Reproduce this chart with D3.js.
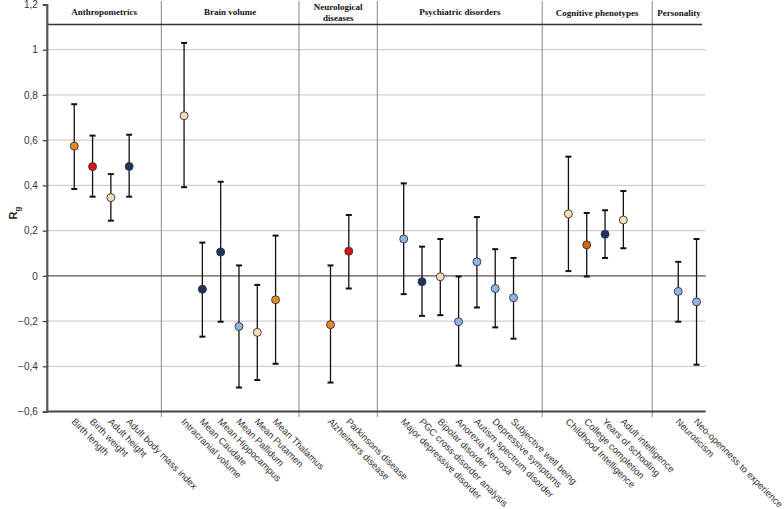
<!DOCTYPE html>
<html><head><meta charset="utf-8">
<script src="https://cdn.jsdelivr.net/npm/d3@7"></script>
<style>body{margin:0;background:#fff}svg{display:block}</style>
</head><body>
<script>
// ---- data ----
const categories = ["Birth length","Birth weight","Adult height","Adult body mass index",
 "Intracranial volume","Mean Caudate","Mean Hippocampus","Mean Pallidum","Mean Putamen","Mean Thalamus",
 "Alzheimers disease","Parkinsons disease",
 "Major depressive disorder","PGC cross-disorder analysis","Bipolar disorder","Anorexia Nervosa","Autism spectrum disorder","Depressive symptoms","Subjective well being",
 "Childhood Intelligence","College completion","Years of schooling","Adult intelligence",
 "Neuroticism","Neo-openness to experience"];
const slots = [1,2,3,4, 7,8,9,10,11,12, 15,16, 19,20,21,22,23,24,25, 28,29,30,31, 34,35];
const rg    = [0.574,0.483,0.346,0.484, 0.708,-0.059,0.105,-0.224,-0.25,-0.106, -0.216,0.109,
               0.163,-0.026,-0.004,-0.203,0.062,-0.056,-0.097, 0.274,0.137,0.184,0.247, -0.069,-0.115];
const lower = [0.384,0.35,0.244,0.35, 0.392,-0.269,-0.203,-0.494,-0.461,-0.389, -0.472,-0.056,
               -0.081,-0.177,-0.174,-0.397,-0.14,-0.228,-0.278, 0.021,-0.003,0.079,0.122, -0.203,-0.393];
const upper = [0.759,0.62,0.45,0.624, 1.03,0.147,0.416,0.046,-0.04,0.178, 0.046,0.269,
               0.409,0.129,0.163,-0.003,0.26,0.118,0.079, 0.527,0.278,0.29,0.375, 0.062,0.163];
const colorKey = ["orange","red","tan","navy", "tan","navy","navy","lightblue","tan","orange",
 "orange","red", "lightblue","navy","tan","lightblue","lightblue","lightblue","lightblue",
 "tan","darkorange","navy","tan", "lightblue","lightblue"];
const groups = ["Anthropometrics","Brain volume","Neurological diseases","Psychiatric disorders","Cognitive phenotypes","Personality"];
const groupBounds = [0, 6.26, 13.78, 18.06, 27.07, 33.08, 36];
const yTicks = [-0.6,-0.4,-0.2,0,0.2,0.4,0.6,0.8,1,1.2];

const palette = {orange:"#e8862a", red:"#e01010", tan:"#f3dcb8", navy:"#1c3560", lightblue:"#8fb4e3", darkorange:"#d2650f"};

const W=784,H=509;
const svg = d3.select("body").append("svg").attr("width",W).attr("height",H)
  .style("font-family","'Liberation Sans',Arial,sans-serif");

const x = d3.scaleLinear().domain([0,36]).range([46.8,705.7]);
const y = d3.scaleLinear().domain([-0.6,1.2]).range([411.5,4.5]);

// gridlines
svg.append("g").selectAll("line").data(yTicks.filter(t=>t!==-0.6 && t!==0 && t!==1.2)).join("line")
  .attr("x1",x(0)).attr("x2",x(36)).attr("y1",d=>y(d)).attr("y2",d=>y(d))
  .attr("stroke","#cfcfcf").attr("stroke-width",1.3);

// group separators
svg.append("g").selectAll("line").data(groupBounds.slice(1,-1)).join("line")
  .attr("x1",d=>x(d)).attr("x2",d=>x(d)).attr("y1",1).attr("y2",417)
  .attr("stroke","#9a9a9a").attr("stroke-width",1.2);

// header line
svg.append("line").attr("x1",x(0)).attr("x2",x(35.8)).attr("y1",y(1.111)).attr("y2",y(1.111))
  .attr("stroke","#333").attr("stroke-width",1.5);

// zero line
svg.append("line").attr("x1",x(0)).attr("x2",x(36)).attr("y1",y(0)).attr("y2",y(0))
  .attr("stroke","#555").attr("stroke-width",1.3);

// x axis line
svg.append("line").attr("x1",x(0)).attr("x2",x(36)).attr("y1",y(-0.6)).attr("y2",y(-0.6))
  .attr("stroke","#444").attr("stroke-width",2);

// y axis
const yAxis = d3.axisLeft(y).tickValues(yTicks).tickSize(4).tickPadding(5)
  .tickFormat(d=>d3.format(".1f")(d).replace(/\.0$/,"").replace(".",","));
const ya = svg.append("g").attr("transform",`translate(${x(0)},0)`).call(yAxis);
ya.select(".domain").attr("stroke","#555").attr("stroke-width",2.2);
ya.selectAll(".tick line").attr("stroke","#444").attr("stroke-width",1.3);
ya.selectAll(".tick text").attr("fill","#333").style("font-size","10px").style("font-family","'Liberation Sans',Arial,sans-serif");

// y label
const yl = svg.append("text").attr("transform","translate(17,213) rotate(-90)")
  .attr("text-anchor","middle").style("font-weight","bold").style("font-size","11px").attr("fill","#222");
yl.append("tspan").text("R");
yl.append("tspan").text("g").attr("dy",3).style("font-size","8px");

// group headers
const hdr = svg.append("g").style("font-family","'Liberation Serif','Times New Roman',serif")
  .style("font-weight","bold").style("font-size","9px").attr("fill","#111");
groups.forEach((g,i)=>{
  const cx = (x(groupBounds[i])+x(groupBounds[i+1]))/2;
  if(g==="Neurological diseases"){
    hdr.append("text").attr("x",cx).attr("y",10).attr("text-anchor","middle").text("Neurological");
    hdr.append("text").attr("x",cx).attr("y",21).attr("text-anchor","middle").text("diseases");
  } else {
    hdr.append("text").attr("x",cx).attr("y",i===4||i===5?16:15).attr("text-anchor","middle").text(g);
  }
});

// x labels
svg.append("g").selectAll("text").data(categories).join("text")
  .attr("transform",(d,i)=>`translate(${x(slots[i]+0.5)-1},${420}) rotate(45)`)
  .attr("text-anchor","start").attr("dy","0.35em")
  .style("font-size","9.5px").attr("fill","#333").text(d=>d);

// error bars
const eb = svg.append("g");
categories.forEach((c,i)=>{
  const cx = x(slots[i]+0.5);
  eb.append("line").attr("x1",cx).attr("x2",cx).attr("y1",y(lower[i])).attr("y2",y(upper[i]))
    .attr("stroke","#111").attr("stroke-width",1.3);
  [lower[i],upper[i]].forEach(v=>{
    eb.append("line").attr("x1",cx-3).attr("x2",cx+3).attr("y1",y(v)).attr("y2",y(v))
      .attr("stroke","#111").attr("stroke-width",2);
  });
});

// points
svg.append("g").selectAll("circle").data(categories).join("circle")
  .attr("cx",(d,i)=>x(slots[i]+0.5)).attr("cy",(d,i)=>y(rg[i])).attr("r",4)
  .attr("fill",(d,i)=>palette[colorKey[i]]).attr("stroke","#333").attr("stroke-width",0.9);
</script>
</body></html>
